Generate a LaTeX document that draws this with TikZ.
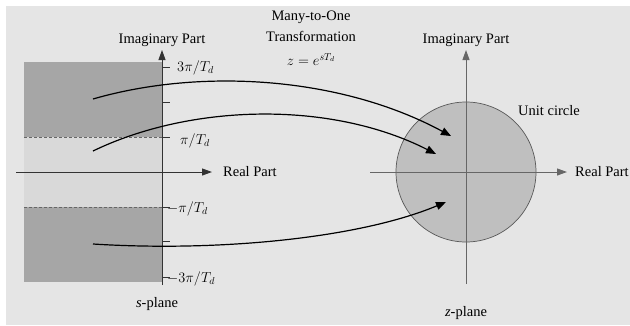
\documentclass[tikz,border=0pt]{standalone}
\usepackage{fontspec}
\setmainfont{Liberation Serif}
\usetikzlibrary{positioning,arrows.meta}

\begin{document}
\begin{tikzpicture}[
    x=1pt,y=-1pt,
    every node/.style={font=\fontsize{14.5}{16}\selectfont,inner sep=1pt},
    axisline/.style={line width=1pt,-{Triangle[length=10pt,width=7pt]}},
    ticklabel/.style={anchor=west,inner sep=0pt},
    mapline/.style={line width=1.2pt,-{Triangle[length=10pt,width=8pt]}},
    band/.style={fill=black!35},
    strip/.style={fill=black!15}
]
    \useasboundingbox (0,0) rectangle (630,325);
    \fill[black!10] (6,6) rectangle (630,325);

    %s-plane
    \fill[band] (24,62) rectangle (162,137);
    \fill[strip] (24,137) rectangle (162,207);
    \fill[band] (24,207) rectangle (162,282);
    \draw[densely dashed,black!60,line width=0.6pt] (24,137) -- (162,137);
    \draw[densely dashed,black!60,line width=0.6pt] (24,207) -- (162,207);

    \coordinate (s-o) at (162,172);
    \coordinate (s-x0) at (16,172);
    \coordinate (s-x1) at (212,172);
    \coordinate (s-y0) at (162,285);
    \coordinate (s-y1) at (162,50);
    \draw[axisline,black!80] (s-x0) -- (s-x1);
    \draw[axisline,black!80] (s-y0) -- (s-y1);
    \node[right=10pt of s-x1] (s-re) {Real Part};
    \node[above=2pt of s-y1] (s-im) {Imaginary Part};

    \foreach \t in {67,102,137,207,241,277}{
        \draw[line width=0.8pt,black!80] (162,\t) -- (170,\t);
    }
    \node[ticklabel] (l-67) at (177,68) {$3\pi/T_d$};
    \node[ticklabel] (l-137) at (180,141) {$\pi/T_d$};
    \node[ticklabel] (l-207) at (167,209) {$-\pi/T_d$};
    \node[ticklabel] (l-277) at (167,279) {$-3\pi/T_d$};
    \node (s-name) at (157,304) {\textit{s}-plane};

    %Transformation
    \node (many) at (311,17) {Many-to-One};
    \node[below=6pt of many] (trans) {Transformation};
    \node[below=9pt of trans] (map) {$z=e^{sT_d}$};

    %z-plane
    \coordinate (z-o) at (466,172);
    \fill[black!25] (z-o) circle[radius=70];
    \draw[black!65,line width=0.7pt] (z-o) circle[radius=70];
    \coordinate (z-x0) at (370,172);
    \coordinate (z-x1) at (567,172);
    \coordinate (z-y0) at (466,284);
    \coordinate (z-y1) at (466,50);
    \draw[axisline,black!60] (z-x0) -- (z-x1);
    \draw[axisline,black!60] (z-y0) -- (z-y1);
    \node[right=7pt of z-x1] (z-re) {Real Part};
    \node[above=2pt of z-y1] (z-im) {Imaginary Part};
    \node (unit) at (549,111) {Unit circle};
    \node (z-name) at (466,313) {\textit{z}-plane};

    %mappings
    \coordinate (a1) at (93,99);   \coordinate (b1) at (451,136);
    \coordinate (a2) at (93,151);  \coordinate (b2) at (436,154);
    \coordinate (a3) at (93,244);  \coordinate (b3) at (446,202);
    \draw[mapline] (a1) .. controls (200,68) and (340,76) .. (b1);
    \draw[mapline] (a2) .. controls (190,104) and (330,100) .. (b2);
    \draw[mapline] (a3) .. controls (220,252) and (360,238) .. (b3);
\end{tikzpicture}
\end{document}
